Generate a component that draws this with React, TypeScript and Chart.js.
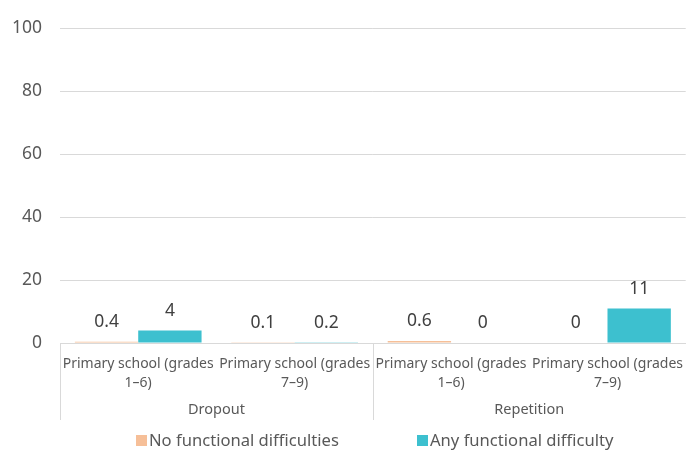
import React, { useEffect, useRef } from "react";
import { Chart, registerables } from "chart.js";

Chart.register(...registerables);

const categories: string[][] = [
  ["Primary school (grades", "1–6)"],
  ["Primary school (grades", "7–9)"],
  ["Primary school (grades", "1–6)"],
  ["Primary school (grades", "7–9)"],
];
const groups: string[] = ["Dropout", "Repetition"];
const noDifficulty: number[] = [0.4, 0.1, 0.6, 0];
const anyDifficulty: number[] = [4, 0.2, 0, 11];
const seriesNames: string[] = ["No functional difficulties", "Any functional difficulty"];
const yTicks: number[] = [0, 20, 40, 60, 80, 100];

const COLORS = ["#F6BF98", "#3DC0CF"];
const FONT = "'Noto Sans', sans-serif";
const TEXT = "#595959";

export default function App() {
  const ref = useRef<HTMLCanvasElement | null>(null);

  useEffect(() => {
    document.body.style.margin = "0";
    const canvas = ref.current;
    if (!canvas) return;

    const extras = {
      id: "extras",
      afterDatasetsDraw(chart: any) {
        const ctx = chart.ctx;
        ctx.save();
        ctx.font = `17.5px ${FONT}`;
        ctx.fillStyle = "#404040";
        ctx.textAlign = "center";
        ctx.textBaseline = "bottom";
        chart.data.datasets.forEach((ds: any, di: number) => {
          const meta = chart.getDatasetMeta(di);
          meta.data.forEach((bar: any, i: number) => {
            ctx.fillText(String(ds.data[i]), bar.x, bar.y - 11);
          });
        });
        ctx.restore();
      },
      afterDraw(chart: any) {
        const ctx = chart.ctx;
        const x = chart.scales.x;
        const area = chart.chartArea;
        ctx.save();
        ctx.strokeStyle = "#d9d9d9";
        ctx.lineWidth = 1;
        const mid = (x.getPixelForTick(1) + x.getPixelForTick(2)) / 2;
        const seps = [area.left, mid];
        seps.forEach((sx) => {
          const px = Math.round(sx) + 0.5;
          ctx.beginPath();
          ctx.moveTo(px, area.bottom);
          ctx.lineTo(px, area.bottom + 77);
          ctx.stroke();
        });
        ctx.font = `14.5px ${FONT}`;
        ctx.fillStyle = TEXT;
        ctx.textAlign = "center";
        ctx.textBaseline = "middle";
        const bounds = [area.left, mid, area.right];
        groups.forEach((g, gi) => {
          ctx.fillText(g, (bounds[gi] + bounds[gi + 1]) / 2, area.bottom + 67);
        });
        const legendY = 441;
        const boxX = [136, 417];
        ctx.font = `16.6px ${FONT}`;
        ctx.textAlign = "left";
        seriesNames.forEach((name, i) => {
          ctx.fillStyle = COLORS[i];
          ctx.fillRect(boxX[i], legendY - 6, 11, 11);
          ctx.fillStyle = TEXT;
          ctx.fillText(name, boxX[i] + 13, legendY);
        });
        ctx.restore();
      },
    };

    const chart = new Chart(canvas, {
      type: "bar",
      data: {
        labels: categories,
        datasets: [
          { label: seriesNames[0], data: noDifficulty, backgroundColor: COLORS[0] },
          { label: seriesNames[1], data: anyDifficulty, backgroundColor: COLORS[1] },
        ],
      },
      options: {
        animation: false,
        responsive: false,
        maintainAspectRatio: false,
        layout: { padding: { top: 14, bottom: 30, left: 0, right: 0 } },
        datasets: { bar: { categoryPercentage: 0.81, barPercentage: 1.0 } },
        plugins: { legend: { display: false }, tooltip: { enabled: false } },
        scales: {
          x: {
            grid: { display: false },
            border: { display: true, color: "#d9d9d9" },
            ticks: {
              color: TEXT,
              font: { family: FONT, size: 14, lineHeight: 1.35 },
              padding: 4,
              maxRotation: 0,
              autoSkip: false,
            },
            afterFit(scale: any) {
              scale.height = 79;
            },
          },
          y: {
            min: 0,
            max: 100,
            afterBuildTicks(scale: any) {
              scale.ticks = yTicks.map((v) => ({ value: v }));
            },
            grid: { color: "#d9d9d9", drawTicks: false },
            border: { display: false },
            ticks: {
              color: TEXT,
              font: { family: FONT, size: 17.5 },
              padding: 18,
            },
            afterFit(scale: any) {
              scale.width = 60;
            },
          },
        },
      },
      plugins: [extras],
    });
    return () => chart.destroy();
  }, []);

  return (
    <div style={{ width: 687, height: 452 }}>
      <canvas ref={ref} width={687} height={452} style={{ display: "block" }} />
    </div>
  );
}
